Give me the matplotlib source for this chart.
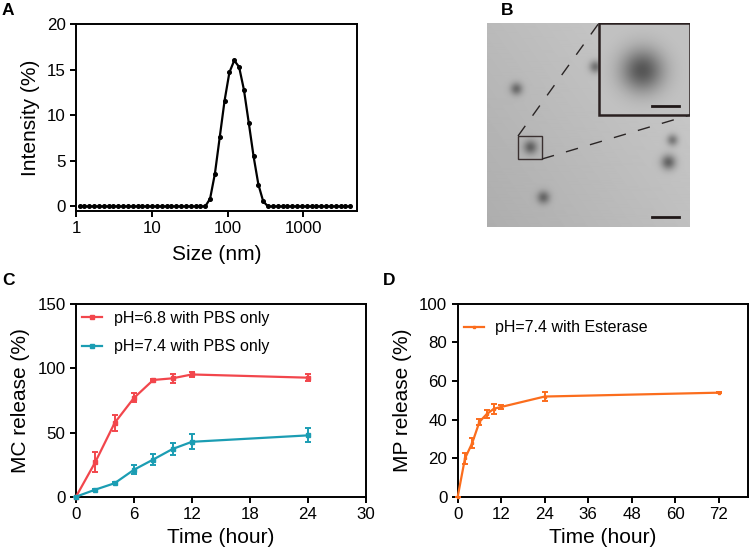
import numpy as np
import matplotlib
matplotlib.use("Agg")
import matplotlib.pyplot as plt
from matplotlib.lines import Line2D

plt.rcParams['font.family'] = ['Liberation Sans', 'DejaVu Sans']

# ---------------- data ----------------
# Panel A: DLS size distribution
size_nm = [1.117, 1.294, 1.499, 1.736, 2.010, 2.328, 2.696, 3.122, 3.615, 4.187,
           4.849, 5.615, 6.503, 7.531, 8.721, 10.10, 11.70, 13.54, 15.69, 18.17,
           21.04, 24.36, 28.21, 32.67, 37.84, 43.82, 50.75, 58.77, 68.06, 78.82,
           91.28, 105.7, 122.4, 141.8, 164.2, 190.1, 220.2, 255.0, 295.3, 342.0,
           396.1, 458.7, 531.2, 615.1, 712.4, 825.0, 955.4, 1106, 1281, 1484,
           1718, 1990, 2305, 2669, 3091, 3580, 4145]
intensity = [0, 0, 0, 0, 0, 0, 0, 0, 0, 0,
             0, 0, 0, 0, 0, 0, 0, 0, 0, 0,
             0, 0, 0, 0, 0, 0, 0, 0.85, 3.6, 7.6,
             11.6, 14.7, 16.0, 15.3, 12.8, 9.2, 5.5, 2.4, 0.55, 0,
             0, 0, 0, 0, 0, 0, 0, 0, 0, 0,
             0, 0, 0, 0, 0, 0, 0]

# Panel B: TEM image particle positions (image pixel coords) and sizes
blob_x = [29, 108, 43, 185, 181, 56]
blob_y = [66, 44, 124, 117, 139, 174]
blob_s = [4.3, 4.3, 4.8, 4.0, 5.2, 4.5]
blob_d = [0.30, 0.30, 0.33, 0.28, 0.36, 0.30]
inset_blob = (155, 47, 15.0, 0.42)

# Panel C: MC release
time_c = [0, 2, 4, 6, 8, 10, 12, 24]
mc_68 = [0, 27.0, 57.5, 77.0, 91.0, 92.3, 95.3, 92.8]
mc_68_err = [0, 7.5, 6.5, 3.5, 1.0, 3.5, 2.0, 2.5]
mc_74 = [0, 5.5, 10.5, 21.0, 29.0, 37.2, 42.8, 47.8]
mc_74_err = [0, 0.8, 0.8, 3.5, 4.5, 5.0, 5.8, 5.5]
label_68 = "pH=6.8 with PBS only"
label_74 = "pH=7.4 with PBS only"

# Panel D: MP release
time_d = [0, 2, 4, 6, 8, 10, 12, 24, 72]
mp = [0, 19.8, 27.8, 38.8, 42.8, 45.6, 46.5, 51.9, 53.9]
mp_err = [0, 2.8, 2.5, 1.5, 2.0, 2.5, 1.0, 2.5, 0.4]
label_d = "pH=7.4 with Esterase"

RED = '#f2464c'
TEAL = '#1b9db3'
ORANGE = '#fb6d1d'

W, H = 750, 553
fig = plt.figure(figsize=(7.5, 5.53), dpi=100)

def ax_px(l, t, r, b):
    return fig.add_axes([l / W, 1 - b / H, (r - l) / W, (b - t) / H])

TICK_FS = 12.2
LAB_FS = 15
SP_LW = 1.4
LEG_FS = 11.5

def style(ax):
    for s in ['top', 'right', 'left', 'bottom']:
        ax.spines[s].set_linewidth(SP_LW)
    ax.tick_params(axis='both', which='major', direction='out', length=4.5, width=SP_LW,
                   labelsize=TICK_FS, pad=3)
    ax.tick_params(axis='both', which='minor', length=0)

# ---------------- Panel A ----------------
axA = ax_px(76, 24, 357, 211)
axA.plot(size_nm, intensity, '-', color='black', lw=1.6, marker='o', ms=2.6,
         mfc='black', mec='black')
axA.set_xscale('log')
axA.set_xlim(1, 5100)
axA.set_ylim(-0.5, 20)
axA.set_xticks([1, 10, 100, 1000])
axA.set_xticklabels(['1', '10', '100', '1000'])
axA.set_yticks([0, 5, 10, 15, 20])
axA.set_xlabel('Size (nm)', fontsize=LAB_FS, labelpad=6)
axA.set_ylabel('Intensity (%)', fontsize=LAB_FS, labelpad=5)
style(axA)

# ---------------- Panel B ----------------
axB = ax_px(487, 23, 690, 227)
IW, IH = 203, 204
yy, xx = np.mgrid[0:IH, 0:IW]
img = 0.78 - 0.07 * (1 - xx / IW) - 0.03 * (yy / IH) + 0.02 * (1 - yy / IH)
for bx, by, bs, bd in zip(blob_x, blob_y, blob_s, blob_d):
    img = img - bd * np.exp(-((xx - bx) ** 2 + (yy - by) ** 2) / (2 * bs ** 2))
axB.imshow(img, cmap='gray', vmin=0, vmax=1, extent=[0, IW, IH, 0],
           interpolation='bilinear', aspect='auto', zorder=1)
# inset
ix0, ix1, iy0, iy1 = 112, 203, 0, 92
yi, xi = np.mgrid[0:iy1 - iy0, 0:ix1 - ix0]
cx, cy, cs, cd = inset_blob
img2 = 0.76 - cd * np.exp(-((xi + ix0 - cx) ** 2 + (yi + iy0 - cy) ** 2) / (2 * cs ** 2))
axB.imshow(img2, cmap='gray', vmin=0, vmax=1, extent=[ix0, ix1, iy1, iy0],
           interpolation='bilinear', aspect='auto', zorder=2)
axB.add_patch(plt.Rectangle((ix0, iy0), ix1 - ix0, iy1 - iy0, fill=False,
                            ec='#2a2020', lw=1.8, zorder=3))
# small box
bx0, bx1, by0, by1 = 31, 55, 113, 136
axB.add_patch(plt.Rectangle((bx0, by0), bx1 - bx0, by1 - by0, fill=False,
                            ec='#3a3030', lw=1.0, zorder=3))
axB.plot([bx0, ix0], [by0, iy0], color='#2a2525', lw=1.0, ls=(0, (9, 9)), zorder=3)
axB.plot([bx1, ix1], [by1, iy1], color='#2a2525', lw=1.0, ls=(0, (9, 9)), zorder=3)
# scale bars
axB.plot([165, 192], [83, 83], color='#201818', lw=2.0, zorder=4)
axB.plot([165, 192], [194, 194], color='#201818', lw=2.0, zorder=4)
axB.set_xlim(0, IW)
axB.set_ylim(IH, 0)
axB.axis('off')

# ---------------- Panel C ----------------
axC = ax_px(76, 304.3, 365.7, 496.7)
axC.errorbar(time_c, mc_68, yerr=mc_68_err, color=RED, lw=1.6, marker='s', ms=2.5,
             capsize=2.5, capthick=1.4, elinewidth=1.4, clip_on=False, zorder=3)
axC.errorbar(time_c, mc_74, yerr=mc_74_err, color=TEAL, lw=1.6, marker='s', ms=2.5,
             capsize=2.5, capthick=1.4, elinewidth=1.4, clip_on=False, zorder=3)
axC.set_xlim(0, 30)
axC.set_ylim(0, 150)
axC.set_xticks([0, 6, 12, 18, 24, 30])
axC.set_yticks([0, 50, 100, 150])
axC.set_xlabel('Time (hour)', fontsize=LAB_FS, labelpad=4)
axC.set_ylabel('MC release (%)', fontsize=LAB_FS, labelpad=5)
style(axC)
hC = [Line2D([], [], color=RED, lw=1.6, marker='s', ms=2.5),
      Line2D([], [], color=TEAL, lw=1.6, marker='s', ms=2.5)]
axC.legend(hC, [label_68, label_74], loc='upper left', frameon=False, fontsize=LEG_FS,
           handlelength=1.25, handletextpad=0.7, labelspacing=0.85, borderaxespad=0.0,
           bbox_to_anchor=(0.0, 1.0))

# ---------------- Panel D ----------------
axD = ax_px(457.7, 303.7, 747.7, 496.7)
axD.errorbar(time_d, mp, yerr=mp_err, color=ORANGE, lw=1.6, marker='s', ms=2.0,
             capsize=2.5, capthick=1.4, elinewidth=1.4, clip_on=False, zorder=3)
axD.set_xlim(0, 80)
axD.set_ylim(0, 100)
axD.set_xticks([0, 12, 24, 36, 48, 60, 72])
axD.set_yticks([0, 20, 40, 60, 80, 100])
axD.set_xlabel('Time (hour)', fontsize=LAB_FS, labelpad=4)
axD.set_ylabel('MP release (%)', fontsize=LAB_FS, labelpad=5)
style(axD)
hD = [Line2D([], [], color=ORANGE, lw=1.6, marker='s', ms=2.0)]
axD.legend(hD, [label_d], loc='upper left', frameon=False, fontsize=LEG_FS,
           handlelength=1.25, handletextpad=0.7, borderaxespad=0.0,
           bbox_to_anchor=(0.0, 0.948))

# panel labels
for lab, x, y in [('A', 2, 3), ('B', 501, 3), ('C', 2, 273), ('D', 383, 273)]:
    fig.text(x / W, 1 - y / H, lab, fontsize=12.5, fontweight='bold', va='top', ha='left')

fig.savefig('out.png', dpi=100)
